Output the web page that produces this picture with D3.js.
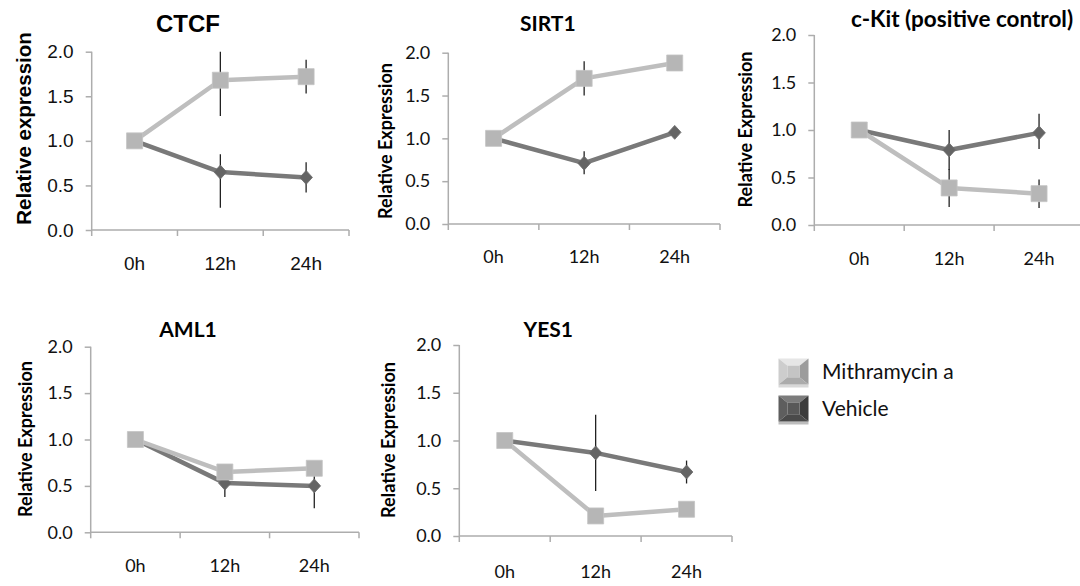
<!DOCTYPE html>
<html><head><meta charset="utf-8">
<script src="https://cdn.jsdelivr.net/npm/d3@7"></script>
<style>html,body{margin:0;padding:0;background:#fff;}svg{display:block;}</style>
</head><body>
<svg id="chart" width="1080" height="586"></svg>
<script>
// ---- data ----
const titles = ["CTCF", "SIRT1", "c-Kit (positive control)", "AML1", "YES1"];
const yLabels = ["Relative expression", "Relative Expression", "Relative Expression", "Relative Expression", "Relative Expression"];
const categories = ["0h", "12h", "24h"];
const yTicks = [0, 0.5, 1.0, 1.5, 2.0];
const seriesNames = ["Mithramycin a", "Vehicle"];

const mithValues   = [[1, 1.68, 1.72], [1, 1.70, 1.88], [1, 0.39, 0.33], [1, 0.65, 0.69], [1, 0.21, 0.28]];
const mithErrUp    = [[0, 0.40, 0.19], [0, 0.20, 0.03], [0, 0.20, 0.15], [0, 0.04, 0.04], [0, 0.03, 0.03]];
const mithErrDown  = [[0, 0.40, 0.19], [0, 0.20, 0.03], [0, 0.20, 0.15], [0, 0.04, 0.04], [0, 0.03, 0.03]];
const vehValues    = [[1, 0.65, 0.59], [1, 0.71, 1.07], [1, 0.79, 0.97], [1, 0.53, 0.50], [1, 0.87, 0.67]];
const vehErrUp     = [[0, 0.20, 0.17], [0, 0.14, 0.05], [0, 0.21, 0.20], [0, 0.15, 0.24], [0, 0.40, 0.12]];
const vehErrDown   = [[0, 0.40, 0.17], [0, 0.13, 0.05], [0, 0.21, 0.17], [0, 0.15, 0.24], [0, 0.40, 0.12]];

// ---- layout (pixel geometry of each panel) ----
const layout = [
  {l: 91.7,  r: 349,  t: 51.7,  b: 230,   font: "'Liberation Sans', Arial, sans-serif", tick: 19, title: 24, ylab: 20.5,
   titleX: 188, titleY: 31.7, ylabX: 23, ylabY: 128.5, xlabY: 270},
  {l: 448.3, r: 720,  t: 52.7,  b: 224,   font: "Lato, 'Open Sans', sans-serif", tick: 18, title: 21, ylab: 18,
   titleX: 547.8, titleY: 30.7, ylabX: 385, ylabY: 141, xlabY: 263.3},
  {l: 814.3, r: 1084, t: 35,    b: 225,   font: "Lato, 'Open Sans', sans-serif", tick: 18, title: 22.5, ylab: 18,
   titleX: 962, titleY: 27.3, ylabX: 745, ylabY: 129.5, xlabY: 265},
  {l: 90.7,  r: 359,  t: 346.7, b: 532.3, font: "Lato, 'Open Sans', sans-serif", tick: 18, title: 21, ylab: 18,
   titleX: 188, titleY: 337.3, ylabX: 25, ylabY: 439, xlabY: 571.7},
  {l: 459.3, r: 732,  t: 345,   b: 536,   font: "Lato, 'Open Sans', sans-serif", tick: 18, title: 21, ylab: 18,
   titleX: 548.3, titleY: 337.3, ylabX: 388, ylabY: 440, xlabY: 578.3}
];

const svg = d3.select("#chart");
const axisColor = "#ADADAD";
const mithLine = "#BEBEBE", mithFill = "#B6B6B6";
const vehLine = "#797979", vehFill = "#646464";

titles.forEach((title, i) => {
  const L = layout[i];
  const g = svg.append("g");
  const x = d3.scaleBand().domain(categories).range([L.l, L.r]).padding(0);
  const y = d3.scaleLinear().domain([0, 2]).range([L.b, L.t]);
  const cx = c => x(c) + x.bandwidth() / 2;
  const clampY = v => y(Math.max(0, Math.min(2, v)));

  // y axis
  const yAxis = d3.axisLeft(y).tickValues(yTicks).tickFormat(d3.format(".1f")).tickSize(6).tickPadding(12);
  const ya = g.append("g").attr("transform", `translate(${L.l},0)`).call(yAxis);
  ya.select(".domain").attr("stroke", axisColor).attr("stroke-width", 1.5).attr("d", `M0,${L.t}V${L.b + 6}`);
  ya.selectAll(".tick line").attr("stroke", axisColor).attr("stroke-width", 1.5);
  ya.selectAll(".tick text").attr("fill", "#111").style("font-family", L.font).style("font-size", L.tick + "px");

  // x axis: ticks at category boundaries
  const xa = g.append("g").attr("transform", `translate(0,${L.b})`);
  xa.append("path").attr("d", `M${L.l},0H${L.r}`).attr("stroke", axisColor).attr("stroke-width", 1.5).attr("fill", "none");
  const bounds = categories.map(c => x(c) + x.bandwidth());
  xa.selectAll("line.bt").data(bounds).join("line").attr("class", "bt")
    .attr("x1", d => d).attr("x2", d => d).attr("y1", 0).attr("y2", 6)
    .attr("stroke", axisColor).attr("stroke-width", 1.5);
  g.selectAll("text.xl").data(categories).join("text").attr("class", "xl")
    .attr("x", d => cx(d)).attr("y", L.xlabY).attr("text-anchor", "middle")
    .style("font-family", L.font).style("font-size", (L.tick) + "px").attr("fill", "#111").text(d => d);

  // title
  g.append("text").attr("x", L.titleX).attr("y", L.titleY).attr("text-anchor", "middle")
    .style("font-family", L.font).style("font-weight", "bold").style("font-size", L.title + "px")
    .attr("fill", "#000").text(title);
  // y label
  g.append("text").attr("transform", `translate(${L.ylabX},${L.ylabY}) rotate(-90)`)
    .attr("text-anchor", "middle").attr("dominant-baseline", "central")
    .style("font-family", L.font).style("font-weight", "bold").style("font-size", L.ylab + "px")
    .attr("fill", "#000").text(yLabels[i]);

  const line = d3.line().x(d => cx(d.c)).y(d => y(d.v));
  const series = [
    {vals: vehValues[i], up: vehErrUp[i], dn: vehErrDown[i], stroke: vehLine, fill: vehFill, sym: "diamond"},
    {vals: mithValues[i], up: mithErrUp[i], dn: mithErrDown[i], stroke: mithLine, fill: mithFill, sym: "square"}
  ];
  series.forEach(s => {
    const pts = categories.map((c, k) => ({c, v: s.vals[k], up: s.up[k], dn: s.dn[k]}));
    g.append("path").datum(pts).attr("d", line).attr("fill", "none")
      .attr("stroke", s.stroke).attr("stroke-width", 4.5).attr("stroke-linejoin", "round");
    g.selectAll(null).data(pts.filter(p => p.up > 0 || p.dn > 0)).join("line")
      .attr("x1", p => cx(p.c)).attr("x2", p => cx(p.c))
      .attr("y1", p => clampY(p.v + p.up)).attr("y2", p => clampY(p.v - p.dn))
      .attr("stroke", "#222").attr("stroke-width", 1.3);
  });
  series.forEach(s => {
    const pts = categories.map((c, k) => ({c, v: s.vals[k]}));
    if (s.sym === "square") {
      g.selectAll(null).data(pts).join("path")
        .attr("d", d3.symbol(d3.symbolSquare, 256))
        .attr("transform", p => `translate(${cx(p.c)},${y(p.v)})`)
        .attr("fill", s.fill).attr("stroke", "#C4C4C4").attr("stroke-width", 0.8);
    } else {
      g.selectAll(null).data(pts).join("path")
        .attr("d", d3.symbol(d3.symbolSquare, 88))
        .attr("transform", p => `translate(${cx(p.c)},${y(p.v)}) scale(0.95,1.05) rotate(45)`)
        .attr("fill", s.fill).attr("stroke", "#6e6e6e").attr("stroke-width", 0.8);
    }
  });
});

// ---- legend ----
const legendShades = [
  {top: "#E6E6E6", left: "#CDCDCD", right: "#9C9C9C", bottom: "#ABABAB", center: "#C4C4C4", shadow: "#D8D8D8"},
  {top: "#7C7C7C", left: "#5E5E5E", right: "#3C3C3C", bottom: "#4A4A4A", center: "#585858", shadow: "#BDBDBD"}
];
const legY = d3.scalePoint().domain(seriesNames).range([371.5, 408.5]);
const lg = svg.append("g");
seriesNames.forEach((name, k) => {
  const cy = legY(name), x0 = 778.5, w = 30, h = 26, y0 = cy - h / 2, inset = 9;
  const sh = legendShades[k];
  const x1 = x0 + w, y1 = y0 + h, ix0 = x0 + inset, ix1 = x1 - inset, iy0 = y0 + inset * 0.8, iy1 = y1 - inset * 0.8;
  lg.append("rect").attr("x", x0).attr("y", y1).attr("width", w).attr("height", 3).attr("fill", sh.shadow);
  const poly = (pts, c) => lg.append("polygon").attr("points", pts.map(p => p.join(",")).join(" ")).attr("fill", c);
  poly([[x0, y0], [x1, y0], [ix1, iy0], [ix0, iy0]], sh.top);
  poly([[x0, y0], [ix0, iy0], [ix0, iy1], [x0, y1]], sh.left);
  poly([[x1, y0], [x1, y1], [ix1, iy1], [ix1, iy0]], sh.right);
  poly([[x0, y1], [ix0, iy1], [ix1, iy1], [x1, y1]], sh.bottom);
  poly([[ix0, iy0], [ix1, iy0], [ix1, iy1], [ix0, iy1]], sh.center);
  lg.append("text").attr("x", 822).attr("y", cy + 7)
    .style("font-family", "Lato, 'Open Sans', sans-serif").style("font-size", "21px").attr("fill", "#111").text(name);
});
</script>
</body></html>
